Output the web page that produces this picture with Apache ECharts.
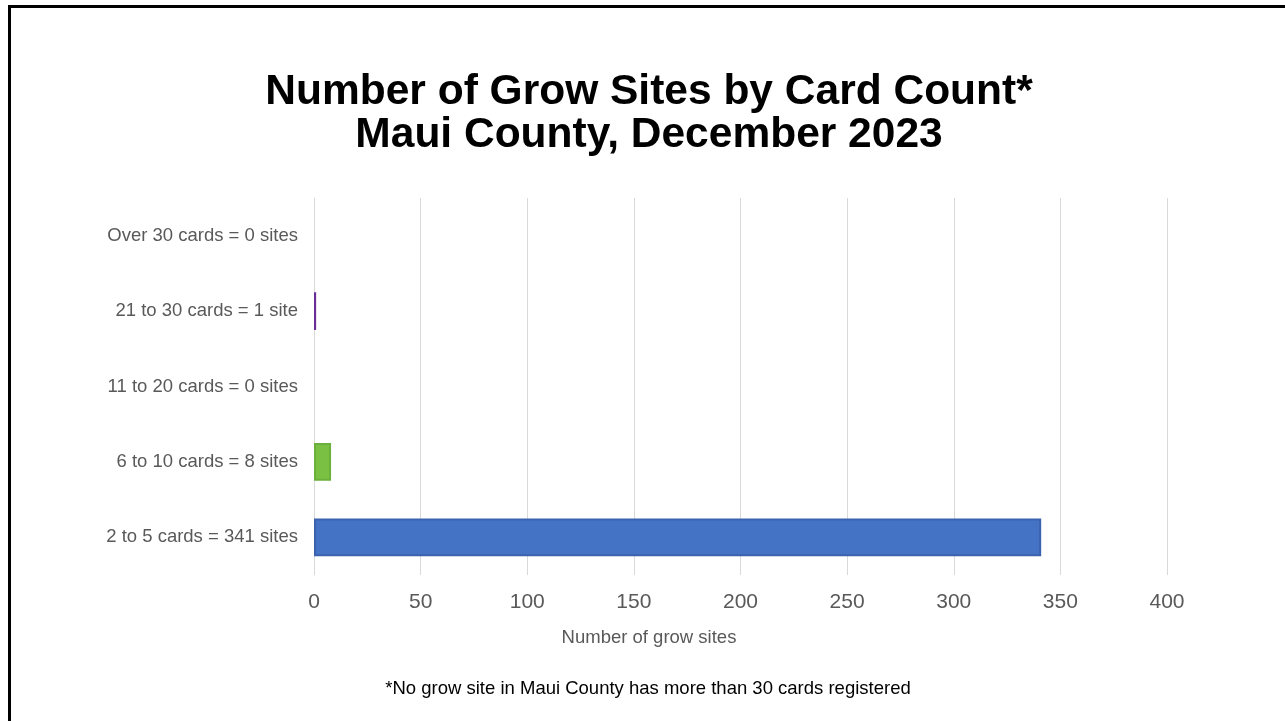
<!DOCTYPE html>
<html>
<head>
<meta charset="utf-8">
<script src="https://cdn.jsdelivr.net/npm/echarts@6/dist/echarts.min.js"></script>
<style>
  html, body { margin: 0; padding: 0; background: #fff; }
  #frame { position: absolute; left: 8px; top: 5px; width: 1290px; height: 730px;
           border-left: 3px solid #000; border-top: 3px solid #000; }
  #chart { position: absolute; left: 0; top: 0; width: 1285px; height: 721px; }
</style>
</head>
<body>
<div id="frame"></div>
<div id="chart"></div>
<script>
// bottom to top, as drawn on the category axis
const categories = [
  '2 to 5 cards = 341 sites',
  '6 to 10 cards = 8 sites',
  '11 to 20 cards = 0 sites',
  '21 to 30 cards = 1 site',
  'Over 30 cards = 0 sites'
]
const sites = [341, 8, 0, 1, 0]
const barColors = ['#4472C4', '#7AC043', '#A5A5A5', '#7030A0', '#5B9BD5']
const barBorders = ['#3A62AE', '#6BB03A', '#999999', '#6A2C96', '#4E8BC2']

const chart = echarts.init(document.getElementById('chart'), null, { renderer: 'canvas' })

const font = 'Liberation Sans, Arial, sans-serif'

const option = {
  animation: false,
  textStyle: { fontFamily: font },
  title: [{
    text: 'Number of Grow Sites by Card Count*\nMaui County, December 2023',
    left: 644,
    textAlign: 'center',
    top: 66,
    textStyle: { fontSize: 42.5, fontWeight: 'bold', color: '#000', lineHeight: 43, fontFamily: font }
  }, {
    // axis title sits centred on the whole chart, not on the plot
    text: 'Number of grow sites',
    left: 644,
    textAlign: 'center',
    top: 623,
    textStyle: { fontSize: 18.5, fontWeight: 'normal', color: '#595959', fontFamily: font }
  }, {
    text: '*No grow site in Maui County has more than 30 cards registered',
    left: 643,
    textAlign: 'center',
    top: 674,
    textStyle: { fontSize: 18.5, fontWeight: 'normal', color: '#000', fontFamily: font }
  }],
  grid: { left: 314, right: 118, top: 198, bottom: 146, containLabel: false },
  xAxis: {
    type: 'value',
    min: 0,
    max: 400,
    interval: 50,
    axisLine: { show: false },
    axisTick: { show: false },
    axisLabel: { fontSize: 21, color: '#595959', margin: 17 },
    splitLine: { show: true, lineStyle: { color: '#D9D9D9', width: 1 } }
  },
  yAxis: {
    type: 'category',
    data: categories,
    axisLine: { show: true, lineStyle: { color: '#D9D9D9' } },
    axisTick: { show: false },
    axisLabel: { fontSize: 18.5, color: '#595959', margin: 16 }
  },
  series: [{
    type: 'bar',
    barWidth: '50%',
    data: sites.map((v, i) => ({
      value: v,
      itemStyle: { color: barColors[i], borderColor: barBorders[i], borderWidth: v > 0 ? 2 : 0 }
    }))
  }]
}

chart.setOption(option)
</script>
</body>
</html>
